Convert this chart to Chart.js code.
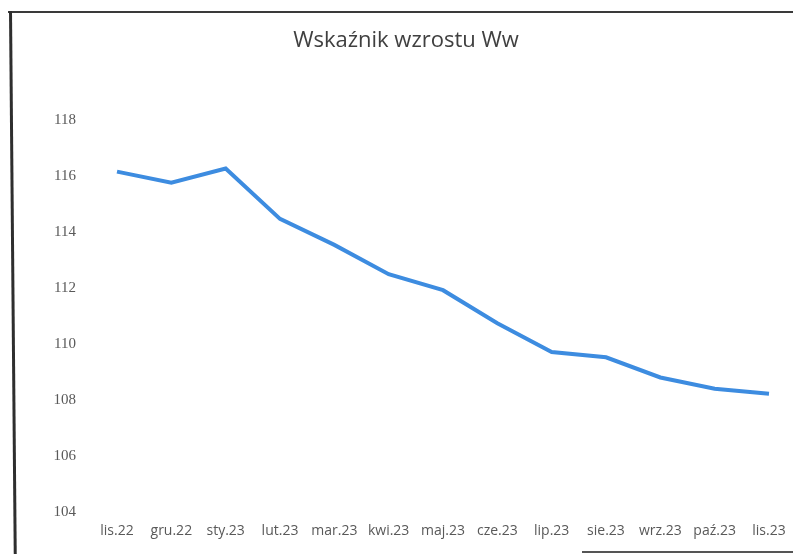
<!DOCTYPE html>
<html>
<head>
<meta charset="utf-8">
<script src="https://cdn.jsdelivr.net/npm/chart.js@4/dist/chart.umd.min.js"></script>
<style>
  html, body { margin: 0; padding: 0; background: #fff; }
  #wrap { position: relative; width: 793px; height: 554px; overflow: hidden; }
  #c { position: absolute; left: 0; top: 0; }
  .ln { position: absolute; background: #2e2e2e; }
</style>
</head>
<body>
<div id="wrap">
  <canvas id="c" width="793" height="554"></canvas>
  <div class="ln" style="left:8px; top:11px; width:785px; height:2px; background:#3a3a3a;"></div>
  <div class="ln" style="left:9px; top:11px; width:3px; height:543px; transform:rotate(-0.5deg); transform-origin:top left;"></div>
  <div class="ln" style="left:582px; top:551px; width:211px; height:2px; background:#555;"></div>
</div>
<script>
const categories = ['lis.22','gru.22','sty.23','lut.23','mar.23','kwi.23','maj.23','cze.23','lip.23','sie.23','wrz.23','paź.23','lis.23'];
const seriesValues = [116.17, 115.77, 116.28, 114.48, 113.55, 112.5, 111.93, 110.75, 109.72, 109.53, 108.81, 108.41, 108.23];
const yTicks = [104, 106, 108, 110, 112, 114, 116, 118];
const chartTitle = 'Wskaźnik wzrostu Ww';

new Chart(document.getElementById('c'), {
  type: 'line',
  data: {
    labels: categories,
    datasets: [{
      label: chartTitle,
      data: seriesValues,
      borderColor: '#3d8ce0',
      borderWidth: 4,
      pointRadius: 0,
      pointHoverRadius: 0,
      tension: 0,
      fill: false
    }]
  },
  options: {
    responsive: false,
    animation: false,
    devicePixelRatio: 1,
    layout: { autoPadding: false, padding: { left: 43, right: 24, top: 0, bottom: 0 } },
    plugins: {
      legend: { display: false },
      tooltip: { enabled: false },
      title: {
        display: true,
        text: chartTitle,
        color: '#404040',
        font: { family: 'Open Sans', size: 22, weight: 'normal', lineHeight: 1.2 },
        padding: { top: 28, bottom: 66 }
      }
    },
    scales: {
      x: {
        type: 'category',
        offset: false,
        grid: { display: false, drawTicks: true, tickLength: 11 },
        border: { display: false },
        ticks: {
          color: '#595959',
          font: { family: 'Open Sans', size: 14 },
          padding: 0,
          maxRotation: 0,
          autoSkip: false
        },
        afterFit: (s) => { s.height = 42; }
      },
      y: {
        min: 104,
        max: 118,
        grid: { display: false, drawTicks: true, tickLength: 41 },
        border: { display: false },
        afterBuildTicks: (s) => { s.ticks = yTicks.map(v => ({ value: v })); },
        ticks: {
          color: '#595959',
          font: { family: 'Liberation Serif', size: 15 },
          padding: 0
        },
        afterFit: (s) => { s.width = 74; }
      }
    }
  }
});
</script>
</body>
</html>
